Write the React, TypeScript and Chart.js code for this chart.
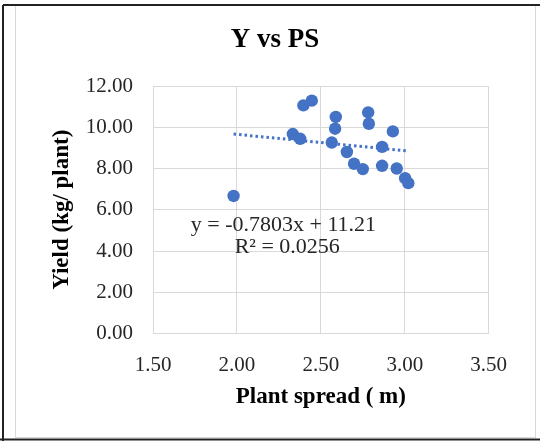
import React, { useEffect, useRef } from "react";
import { Chart, registerables } from "chart.js";

Chart.register(...registerables);

const plantSpread = [1.98, 2.396, 2.446, 2.333, 2.377, 2.589, 2.585, 2.565, 2.655, 2.698, 2.75, 2.782, 2.786, 2.929, 2.865, 2.865, 2.952, 3.002, 3.021];
const yieldValues = [6.67, 11.06, 11.29, 9.67, 9.44, 10.5, 9.93, 9.26, 8.8, 8.23, 7.97, 10.72, 10.17, 9.8, 9.05, 8.13, 8.0, 7.53, 7.29];
const trendX = [1.98, 3.02];
const trendY = [9.67, 8.85];
const chartTitle = "Y vs PS";
const equationLines = ["y = -0.7803x + 11.21", "R² = 0.0256"];
const equationAnchorX = [2.277, 2.30];
const equationAnchorY = [5.27, 4.2];

const BLUE = "#4472C4";
const SERIF = "'Liberation Serif', 'Times New Roman', serif";

const framePlugin = {
  id: "frame",
  beforeDraw(chart: any) {
    const ctx = chart.ctx;
    ctx.save();
    ctx.fillStyle = "#ffffff";
    ctx.fillRect(0, 0, chart.width, chart.height);
    ctx.strokeStyle = "#d9d9d9";
    ctx.lineWidth = 1;
    ctx.strokeRect(15.5, 5.5, 520, 432);
    ctx.strokeStyle = "#222";
    ctx.lineWidth = 2;
    ctx.beginPath();
    ctx.moveTo(3, 5);
    ctx.lineTo(540, 5);
    ctx.moveTo(3, 5);
    ctx.lineTo(3, 441);
    ctx.moveTo(0, 439.5);
    ctx.lineTo(540, 439.5);
    ctx.stroke();
    // chart title
    ctx.font = `bold 27px ${SERIF}`;
    ctx.fillStyle = "#000";
    ctx.textAlign = "center";
    ctx.textBaseline = "middle";
    ctx.fillText(chartTitle, 275, 40);
    ctx.restore();
  },
};

const equationPlugin = {
  id: "equation",
  afterDatasetsDraw(chart: any) {
    const ctx = chart.ctx;
    const xs = chart.scales.x;
    const ys = chart.scales.y;
    ctx.save();
    ctx.font = `22px ${SERIF}`;
    ctx.fillStyle = "#262626";
    ctx.textAlign = "center";
    ctx.textBaseline = "middle";
    equationLines.forEach((line, i) => {
      ctx.fillText(line, xs.getPixelForValue(equationAnchorX[i]), ys.getPixelForValue(equationAnchorY[i]));
    });
    ctx.restore();
  },
};

export default function App() {
  const ref = useRef<HTMLCanvasElement | null>(null);

  useEffect(() => {
    if (!ref.current) return;
    const chart = new Chart(ref.current, {
      type: "scatter",
      data: {
        datasets: [
          {
            label: "Yield",
            data: plantSpread.map((x, i) => ({ x, y: yieldValues[i] })),
            backgroundColor: BLUE,
            borderColor: BLUE,
            pointRadius: 6.2,
            borderWidth: 0,
          },
          {
            type: "line",
            label: "Trend",
            data: trendX.map((x, i) => ({ x, y: trendY[i] })),
            borderColor: BLUE,
            borderWidth: 3,
            borderDash: [2.5, 3],
            borderCapStyle: "butt",
            pointRadius: 0,
            fill: false,
          } as any,
        ],
      },
      options: {
        responsive: false,
        animation: false,
        layout: { padding: { left: 16, right: 51.3, top: 86, bottom: 27.5 } },
        plugins: {
          legend: { display: false },
          tooltip: { enabled: false },
          title: { display: false },
        },
        scales: {
          x: {
            type: "linear",
            min: 1.5,
            max: 3.5,
            afterFit(scale: any) {
              scale.height = 80;
            },
            ticks: {
              stepSize: 0.5,
              padding: 19,
              color: "#262626",
              font: { family: SERIF, size: 21 },
              callback: (v: any) => Number(v).toFixed(2),
            },
            grid: { color: "#d9d9d9", drawTicks: false },
            border: { display: false },
            title: {
              display: true,
              text: "Plant spread ( m)",
              color: "#000",
              font: { family: SERIF, size: 23, weight: "bold" },
              padding: { top: 0, bottom: 3 },
            },
          },
          y: {
            type: "linear",
            min: 0,
            max: 12,
            afterFit(scale: any) {
              scale.width = 137;
            },
            ticks: {
              stepSize: 2,
              padding: 20,
              color: "#262626",
              font: { family: SERIF, size: 21 },
              callback: (v: any) => Number(v).toFixed(2),
            },
            grid: { color: "#d9d9d9", drawTicks: false },
            border: { display: false },
            title: {
              display: true,
              text: "Yield (kg/ plant)",
              color: "#000",
              font: { family: SERIF, size: 23, weight: "bold" },
              padding: { top: 32, bottom: 0 },
            },
          },
        },
      },
      plugins: [framePlugin, equationPlugin],
    });
    return () => chart.destroy();
  }, []);

  return (
    <div style={{ position: "fixed", left: 0, top: 0, width: 540, height: 441 }}>
      <canvas ref={ref} width={540} height={441} />
    </div>
  );
}
